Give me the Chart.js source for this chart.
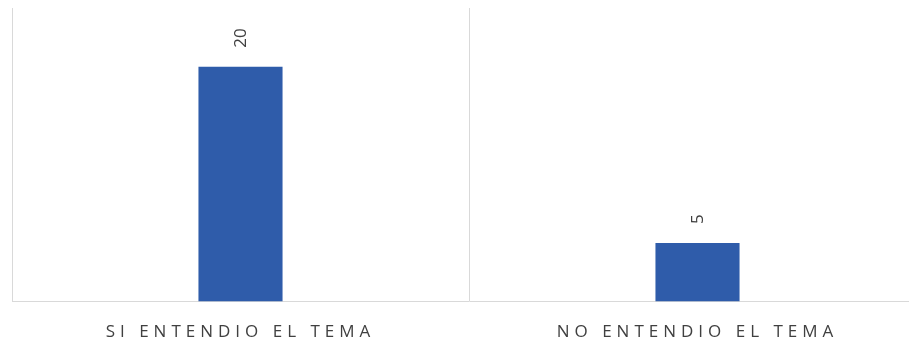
<!DOCTYPE html>
<html>
<head>
<meta charset="utf-8">
<script src="https://cdn.jsdelivr.net/npm/chart.js@4"></script>
<style>
  html, body { margin: 0; padding: 0; background: #fff; overflow: hidden; }
  #wrap { width: 940px; height: 362px; }
</style>
</head>
<body>
<div id="wrap"><canvas id="chart"></canvas></div>
<script>
const categories = ["SI ENTENDIO EL TEMA", "NO ENTENDIO EL TEMA"];
const values = [20, 5];

// rotated value labels above the bars
const valueLabels = {
    id: "valueLabels",
    afterDatasetsDraw(chart) {
        const ctx = chart.ctx;
        const meta = chart.getDatasetMeta(0);
        ctx.save();
        ctx.letterSpacing = "0px";
        ctx.fillStyle = "#404040";
        ctx.font = "17px 'Open Sans', sans-serif";
        ctx.textAlign = "left";
        ctx.textBaseline = "middle";
        meta.data.forEach((bar, i) => {
            ctx.save();
            ctx.translate(bar.x + 1, bar.y - 19);
            ctx.rotate(-Math.PI / 2);
            ctx.fillText(String(values[i]), 0, 0);
            ctx.restore();
        });
        ctx.restore();
    }
};

// spaced-out axis text
const spacing = {
    id: "spacing",
    beforeDraw(chart) { chart.ctx.letterSpacing = "5px"; },
    afterDraw(chart) { chart.ctx.letterSpacing = "0px"; }
};

const ctx = document.getElementById("chart");

new Chart(ctx, {
    type: "bar",
    data: {
        labels: categories,
        datasets: [{
            data: values,
            backgroundColor: "#2f5caa",
            barPercentage: 0.92,
            categoryPercentage: 0.2
        }]
    },
    options: {
        responsive: true,
        maintainAspectRatio: false,
        animation: false,
        layout: { padding: { left: 12, right: 14, top: 8, bottom: 0 } },
        plugins: {
            legend: { display: false },
            tooltip: { enabled: false }
        },
        scales: {
            x: {
                grid: { offset: true, color: "#d9d9d9", drawTicks: false },
                border: { color: "#d9d9d9" },
                ticks: {
                    color: "#404040",
                    font: { size: 17, family: "'Open Sans', sans-serif" },
                    padding: 20,
                    maxRotation: 0
                }
            },
            y: {
                display: false,
                min: 0,
                max: 25
            }
        }
    },
    plugins: [valueLabels, spacing]
});
</script>
</body>
</html>
